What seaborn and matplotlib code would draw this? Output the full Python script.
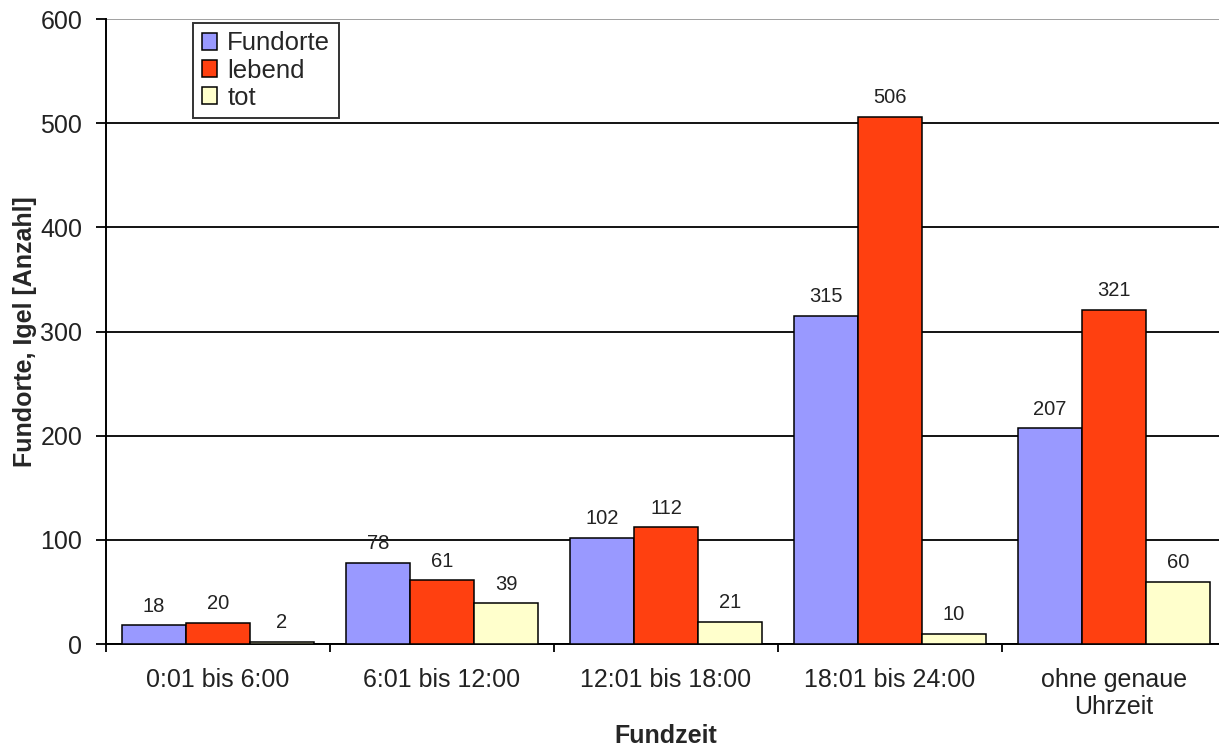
import matplotlib
matplotlib.use("Agg")
import matplotlib.pyplot as plt
import seaborn as sns
import pandas as pd
from matplotlib.ticker import FixedLocator

# Data: hedgehog finds by time of day
categories = ["0:01 bis 6:00", "6:01 bis 12:00", "12:01 bis 18:00",
              "18:01 bis 24:00", "ohne genaue\nUhrzeit"]
series = ["Fundorte", "lebend", "tot"]
fundorte = [18, 78, 102, 315, 207]
lebend = [20, 61, 112, 506, 321]
tot = [2, 39, 21, 10, 60]
y_ticks = [0, 100, 200, 300, 400, 500, 600]

colors = {"Fundorte": "#9999FF", "lebend": "#FF4010", "tot": "#FFFFCC"}

df = pd.DataFrame({
    "Fundzeit": categories * 3,
    "Serie": [s for s in series for _ in categories],
    "Anzahl": fundorte + lebend + tot,
})

sns.set_theme(style="white")
plt.rcParams["font.family"] = ["Liberation Sans", "DejaVu Sans"]

fig = plt.figure(figsize=(12.19, 7.47), dpi=100)
ax = fig.add_axes([106 / 1219, 103 / 747, 1120 / 1219, 625 / 747])

sns.barplot(data=df, x="Fundzeit", y="Anzahl", hue="Serie", order=categories,
            hue_order=series, palette=colors, width=0.857, gap=0,
            edgecolor="black", linewidth=1.1, saturation=1, ax=ax, zorder=3)

for cont in ax.containers:
    ax.bar_label(cont, fmt="%d", padding=7, fontsize=14.5, color="#222222")

ax.set_ylim(0, 600)
ax.set_xlim(-0.5, len(categories) - 0.5)
ax.yaxis.set_major_locator(FixedLocator(y_ticks))
ax.grid(axis="y", color="black", linewidth=1.3, zorder=0)
ax.grid(axis="x", visible=False)
ax.yaxis.get_gridlines()[-1].set_color("0.6")
ax.set_axisbelow(True)

for side in ["top", "right"]:
    ax.spines[side].set_visible(False)
for side in ["left", "bottom"]:
    ax.spines[side].set_color("black")
    ax.spines[side].set_linewidth(1.4)

ax.tick_params(axis="y", direction="out", length=7, width=1.3, color="black",
               labelsize=18, pad=10, left=True, labelcolor="#222222")
ax.tick_params(axis="x", which="major", length=0, labelsize=18, pad=17,
               labelcolor="#222222")
ax.xaxis.set_minor_locator(FixedLocator([i - 0.5 for i in range(len(categories) + 1)]))
ax.tick_params(axis="x", which="minor", direction="out", length=6, width=1.3,
               color="black", bottom=True)

ax.set_xlabel("Fundzeit", fontsize=18, fontweight="bold")
ax.xaxis.set_label_coords(0.5, -0.128)
ax.set_ylabel("Fundorte, Igel [Anzahl]", fontsize=18, fontweight="bold")
ax.yaxis.set_label_coords(-0.062, 0.5)

leg = ax.legend(loc="upper left", bbox_to_anchor=(0.0777, 0.9936),
                borderaxespad=0, frameon=True, fancybox=False, fontsize=18.5,
                handlelength=0.6, handleheight=0.6, handletextpad=0.4,
                labelspacing=0.12, borderpad=0.33, title=None)
leg.get_frame().set_edgecolor("black")
leg.get_frame().set_linewidth(1.4)
for h in leg.legend_handles:
    h.set_edgecolor("black")
    h.set_linewidth(1.1)

fig.savefig("out.png", dpi=100)
